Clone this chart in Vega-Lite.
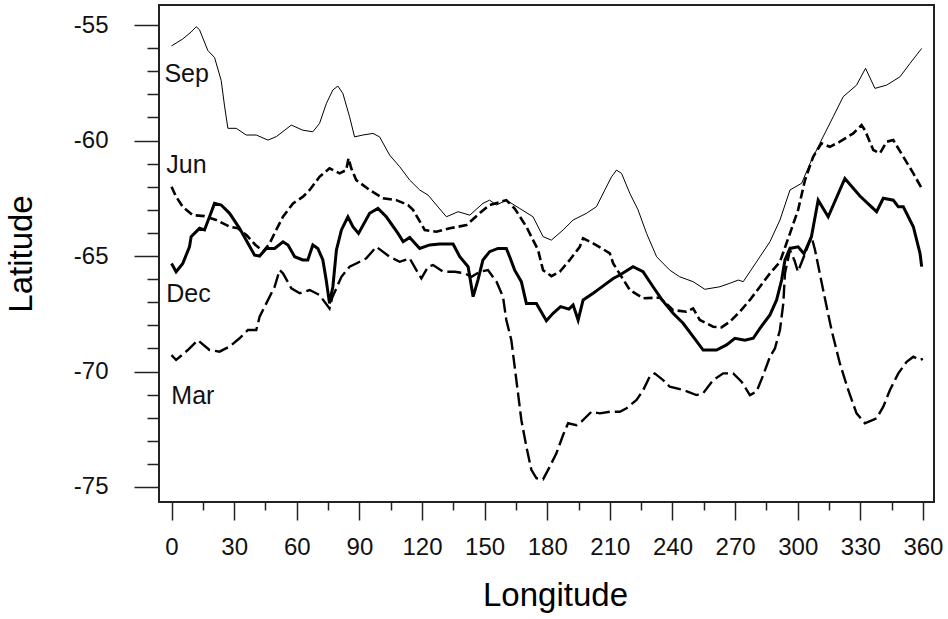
{
"$schema": "https://vega.github.io/schema/vega-lite/v6.json",
"width": 775, "height": 497,
"autosize": {"type": "none"},
"padding": {"left": 159, "top": 5, "right": 14, "bottom": 117},
"background": "white",
"config": {
 "font": "Liberation Sans",
 "view": {"stroke": "#222", "strokeWidth": 2},
 "axis": {"grid": false, "domain": false, "tickColor": "#222", "tickWidth": 1.5, "labelColor": "#111", "titleColor": "#000", "titleFontWeight": "normal", "labelFont": "Liberation Sans", "titleFont": "Liberation Sans"}
},
"datasets": {
 "lines": [
{"s":"Sep","lon":0,"lat":-55.9},{"s":"Sep","lon":5.4,"lat":-55.6},{"s":"Sep","lon":9.4,"lat":-55.3},{"s":"Sep","lon":11.8,"lat":-55.07},{"s":"Sep","lon":13.4,"lat":-55.2},{"s":"Sep","lon":17.4,"lat":-56.1},{"s":"Sep","lon":20.6,"lat":-56.4},{"s":"Sep","lon":23.8,"lat":-57.4},{"s":"Sep","lon":25.4,"lat":-58.5},{"s":"Sep","lon":27,"lat":-59.47},{"s":"Sep","lon":31,"lat":-59.47},{"s":"Sep","lon":35.8,"lat":-59.76},{"s":"Sep","lon":40.6,"lat":-59.76},{"s":"Sep","lon":46.2,"lat":-59.98},{"s":"Sep","lon":50.2,"lat":-59.83},{"s":"Sep","lon":57.4,"lat":-59.33},{"s":"Sep","lon":62.9,"lat":-59.55},{"s":"Sep","lon":67.7,"lat":-59.62},{"s":"Sep","lon":70.9,"lat":-59.26},{"s":"Sep","lon":74.2,"lat":-58.39},{"s":"Sep","lon":77.3,"lat":-57.81},{"s":"Sep","lon":79.7,"lat":-57.64},{"s":"Sep","lon":82.1,"lat":-57.96},{"s":"Sep","lon":85.3,"lat":-58.97},{"s":"Sep","lon":87.7,"lat":-59.84},{"s":"Sep","lon":91.7,"lat":-59.76},{"s":"Sep","lon":96.5,"lat":-59.69},{"s":"Sep","lon":99.7,"lat":-59.84},{"s":"Sep","lon":104.5,"lat":-60.63},{"s":"Sep","lon":109.3,"lat":-61.13},{"s":"Sep","lon":114.1,"lat":-61.71},{"s":"Sep","lon":118.9,"lat":-62.14},{"s":"Sep","lon":122.9,"lat":-62.36},{"s":"Sep","lon":127,"lat":-62.8},{"s":"Sep","lon":131.7,"lat":-63.3},{"s":"Sep","lon":137.3,"lat":-63.08},{"s":"Sep","lon":142.9,"lat":-63.23},{"s":"Sep","lon":149.2,"lat":-62.72},{"s":"Sep","lon":152.4,"lat":-62.58},{"s":"Sep","lon":155.7,"lat":-62.79},{"s":"Sep","lon":160.4,"lat":-62.58},{"s":"Sep","lon":166.8,"lat":-62.94},{"s":"Sep","lon":173.2,"lat":-63.3},{"s":"Sep","lon":178,"lat":-64.16},{"s":"Sep","lon":182,"lat":-64.31},{"s":"Sep","lon":187.6,"lat":-63.87},{"s":"Sep","lon":192.4,"lat":-63.44},{"s":"Sep","lon":198.8,"lat":-63.15},{"s":"Sep","lon":203.6,"lat":-62.86},{"s":"Sep","lon":207.6,"lat":-62.14},{"s":"Sep","lon":210.8,"lat":-61.57},{"s":"Sep","lon":213.2,"lat":-61.28},{"s":"Sep","lon":215.6,"lat":-61.42},{"s":"Sep","lon":219.6,"lat":-62.29},{"s":"Sep","lon":223.5,"lat":-63.0},{"s":"Sep","lon":227.6,"lat":-64.02},{"s":"Sep","lon":232.4,"lat":-65.03},{"s":"Sep","lon":238.7,"lat":-65.61},{"s":"Sep","lon":243.5,"lat":-65.9},{"s":"Sep","lon":249.9,"lat":-66.11},{"s":"Sep","lon":255.5,"lat":-66.44},{"s":"Sep","lon":262.7,"lat":-66.33},{"s":"Sep","lon":267.5,"lat":-66.18},{"s":"Sep","lon":271.5,"lat":-66.04},{"s":"Sep","lon":273.9,"lat":-66.11},{"s":"Sep","lon":277.1,"lat":-65.68},{"s":"Sep","lon":281.9,"lat":-65.03},{"s":"Sep","lon":286.7,"lat":-64.38},{"s":"Sep","lon":291.5,"lat":-63.44},{"s":"Sep","lon":296.3,"lat":-62.14},{"s":"Sep","lon":301.9,"lat":-61.85},{"s":"Sep","lon":305.9,"lat":-60.99},{"s":"Sep","lon":310.6,"lat":-60.12},{"s":"Sep","lon":317,"lat":-58.97},{"s":"Sep","lon":321.8,"lat":-58.1},{"s":"Sep","lon":328.2,"lat":-57.6},{"s":"Sep","lon":332.5,"lat":-56.87},{"s":"Sep","lon":337,"lat":-57.74},{"s":"Sep","lon":342.6,"lat":-57.6},{"s":"Sep","lon":349,"lat":-57.24},{"s":"Sep","lon":353.8,"lat":-56.66},{"s":"Sep","lon":359.4,"lat":-56.01},
{"s":"Jun","lon":0,"lat":-62.0},{"s":"Jun","lon":2.2,"lat":-62.43},{"s":"Jun","lon":5.4,"lat":-62.87},{"s":"Jun","lon":10.2,"lat":-63.23},{"s":"Jun","lon":15.8,"lat":-63.27},{"s":"Jun","lon":21.4,"lat":-63.44},{"s":"Jun","lon":27.8,"lat":-63.73},{"s":"Jun","lon":31.8,"lat":-63.8},{"s":"Jun","lon":36,"lat":-64.1},{"s":"Jun","lon":40,"lat":-64.5},{"s":"Jun","lon":44,"lat":-64.8},{"s":"Jun","lon":47,"lat":-64.45},{"s":"Jun","lon":50,"lat":-63.9},{"s":"Jun","lon":53.4,"lat":-63.3},{"s":"Jun","lon":58.2,"lat":-62.72},{"s":"Jun","lon":63,"lat":-62.43},{"s":"Jun","lon":66.2,"lat":-62.14},{"s":"Jun","lon":70.9,"lat":-61.57},{"s":"Jun","lon":75.7,"lat":-61.2},{"s":"Jun","lon":80.5,"lat":-61.42},{"s":"Jun","lon":83.7,"lat":-61.28},{"s":"Jun","lon":84.8,"lat":-60.77},{"s":"Jun","lon":86.1,"lat":-61.2},{"s":"Jun","lon":88.5,"lat":-61.71},{"s":"Jun","lon":94.9,"lat":-62.14},{"s":"Jun","lon":101.3,"lat":-62.5},{"s":"Jun","lon":107.7,"lat":-62.58},{"s":"Jun","lon":113.3,"lat":-62.79},{"s":"Jun","lon":115.7,"lat":-63.0},{"s":"Jun","lon":121.3,"lat":-63.87},{"s":"Jun","lon":126.9,"lat":-63.95},{"s":"Jun","lon":133.3,"lat":-63.8},{"s":"Jun","lon":141.3,"lat":-63.66},{"s":"Jun","lon":147.6,"lat":-63.15},{"s":"Jun","lon":152.4,"lat":-62.79},{"s":"Jun","lon":160.4,"lat":-62.58},{"s":"Jun","lon":164.4,"lat":-62.94},{"s":"Jun","lon":170,"lat":-63.73},{"s":"Jun","lon":175.6,"lat":-64.74},{"s":"Jun","lon":178,"lat":-65.61},{"s":"Jun","lon":182,"lat":-65.87},{"s":"Jun","lon":186,"lat":-65.68},{"s":"Jun","lon":190.8,"lat":-65.17},{"s":"Jun","lon":195.6,"lat":-64.6},{"s":"Jun","lon":197.2,"lat":-64.23},{"s":"Jun","lon":202,"lat":-64.45},{"s":"Jun","lon":210,"lat":-64.88},{"s":"Jun","lon":211.6,"lat":-65.32},{"s":"Jun","lon":219.6,"lat":-66.47},{"s":"Jun","lon":226,"lat":-66.83},{"s":"Jun","lon":233.9,"lat":-66.8},{"s":"Jun","lon":240.3,"lat":-67.34},{"s":"Jun","lon":246.7,"lat":-67.41},{"s":"Jun","lon":249.9,"lat":-67.27},{"s":"Jun","lon":253.1,"lat":-67.77},{"s":"Jun","lon":259.5,"lat":-68.06},{"s":"Jun","lon":263.5,"lat":-68.09},{"s":"Jun","lon":267.5,"lat":-67.84},{"s":"Jun","lon":272.3,"lat":-67.41},{"s":"Jun","lon":277.1,"lat":-66.9},{"s":"Jun","lon":281.9,"lat":-66.33},{"s":"Jun","lon":286.7,"lat":-65.75},{"s":"Jun","lon":291.5,"lat":-65.25},{"s":"Jun","lon":296.3,"lat":-64.02},{"s":"Jun","lon":300.2,"lat":-63.0},{"s":"Jun","lon":303.5,"lat":-61.71},{"s":"Jun","lon":307.4,"lat":-60.7},{"s":"Jun","lon":311.4,"lat":-60.12},{"s":"Jun","lon":315.4,"lat":-60.27},{"s":"Jun","lon":320.2,"lat":-60.05},{"s":"Jun","lon":326.6,"lat":-59.69},{"s":"Jun","lon":330.6,"lat":-59.33},{"s":"Jun","lon":332.2,"lat":-59.55},{"s":"Jun","lon":336.2,"lat":-60.41},{"s":"Jun","lon":339.4,"lat":-60.55},{"s":"Jun","lon":342.6,"lat":-60.05},{"s":"Jun","lon":345.8,"lat":-59.98},{"s":"Jun","lon":350.6,"lat":-60.7},{"s":"Jun","lon":355.4,"lat":-61.42},{"s":"Jun","lon":359.4,"lat":-62.07},
{"s":"Dec","lon":0,"lat":-65.32},{"s":"Dec","lon":2.2,"lat":-65.68},{"s":"Dec","lon":5.4,"lat":-65.32},{"s":"Dec","lon":8.6,"lat":-64.6},{"s":"Dec","lon":9.4,"lat":-64.16},{"s":"Dec","lon":13.4,"lat":-63.8},{"s":"Dec","lon":15.8,"lat":-63.87},{"s":"Dec","lon":18.2,"lat":-63.3},{"s":"Dec","lon":20.6,"lat":-62.72},{"s":"Dec","lon":23.8,"lat":-62.79},{"s":"Dec","lon":27.8,"lat":-63.15},{"s":"Dec","lon":32.6,"lat":-63.8},{"s":"Dec","lon":36.6,"lat":-64.45},{"s":"Dec","lon":39.8,"lat":-64.96},{"s":"Dec","lon":42.2,"lat":-65.0},{"s":"Dec","lon":45.4,"lat":-64.67},{"s":"Dec","lon":49.4,"lat":-64.67},{"s":"Dec","lon":53.4,"lat":-64.38},{"s":"Dec","lon":55.8,"lat":-64.52},{"s":"Dec","lon":59,"lat":-65.03},{"s":"Dec","lon":62.9,"lat":-65.17},{"s":"Dec","lon":65.3,"lat":-65.17},{"s":"Dec","lon":67.7,"lat":-64.52},{"s":"Dec","lon":70.1,"lat":-64.67},{"s":"Dec","lon":72.5,"lat":-65.17},{"s":"Dec","lon":74.1,"lat":-66.04},{"s":"Dec","lon":75.7,"lat":-67.05},{"s":"Dec","lon":77.3,"lat":-66.33},{"s":"Dec","lon":79,"lat":-64.74},{"s":"Dec","lon":81.4,"lat":-63.87},{"s":"Dec","lon":84.5,"lat":-63.3},{"s":"Dec","lon":86.9,"lat":-63.73},{"s":"Dec","lon":89.6,"lat":-64.02},{"s":"Dec","lon":94.9,"lat":-63.15},{"s":"Dec","lon":98.9,"lat":-62.94},{"s":"Dec","lon":102.9,"lat":-63.3},{"s":"Dec","lon":108.5,"lat":-64.02},{"s":"Dec","lon":111,"lat":-64.38},{"s":"Dec","lon":114.1,"lat":-64.2},{"s":"Dec","lon":118.9,"lat":-64.67},{"s":"Dec","lon":123.7,"lat":-64.52},{"s":"Dec","lon":128.5,"lat":-64.48},{"s":"Dec","lon":134.9,"lat":-64.48},{"s":"Dec","lon":138.1,"lat":-65.03},{"s":"Dec","lon":142.1,"lat":-65.46},{"s":"Dec","lon":144.5,"lat":-66.76},{"s":"Dec","lon":146.8,"lat":-66.04},{"s":"Dec","lon":149.2,"lat":-65.17},{"s":"Dec","lon":152.4,"lat":-64.81},{"s":"Dec","lon":156.4,"lat":-64.67},{"s":"Dec","lon":160.4,"lat":-64.67},{"s":"Dec","lon":162,"lat":-65.03},{"s":"Dec","lon":164.4,"lat":-65.61},{"s":"Dec","lon":167.6,"lat":-66.11},{"s":"Dec","lon":170,"lat":-67.05},{"s":"Dec","lon":174.8,"lat":-67.05},{"s":"Dec","lon":179.6,"lat":-67.8},{"s":"Dec","lon":182.8,"lat":-67.48},{"s":"Dec","lon":186.4,"lat":-67.19},{"s":"Dec","lon":190.4,"lat":-67.3},{"s":"Dec","lon":192.4,"lat":-67.12},{"s":"Dec","lon":194.8,"lat":-67.77},{"s":"Dec","lon":197.2,"lat":-66.9},{"s":"Dec","lon":202,"lat":-66.61},{"s":"Dec","lon":205.2,"lat":-66.4},{"s":"Dec","lon":211.6,"lat":-65.97},{"s":"Dec","lon":214.8,"lat":-65.82},{"s":"Dec","lon":221.1,"lat":-65.46},{"s":"Dec","lon":225.9,"lat":-65.68},{"s":"Dec","lon":230.7,"lat":-66.33},{"s":"Dec","lon":235,"lat":-66.9},{"s":"Dec","lon":240.3,"lat":-67.48},{"s":"Dec","lon":245.1,"lat":-67.91},{"s":"Dec","lon":249.9,"lat":-68.49},{"s":"Dec","lon":254.7,"lat":-69.07},{"s":"Dec","lon":261.1,"lat":-69.07},{"s":"Dec","lon":265.9,"lat":-68.85},{"s":"Dec","lon":269.9,"lat":-68.56},{"s":"Dec","lon":274.7,"lat":-68.64},{"s":"Dec","lon":278.7,"lat":-68.56},{"s":"Dec","lon":281.9,"lat":-68.13},{"s":"Dec","lon":286.7,"lat":-67.55},{"s":"Dec","lon":289.9,"lat":-66.9},{"s":"Dec","lon":292.3,"lat":-66.04},{"s":"Dec","lon":293.9,"lat":-65.17},{"s":"Dec","lon":296.3,"lat":-64.67},{"s":"Dec","lon":300.2,"lat":-64.6},{"s":"Dec","lon":303,"lat":-64.9},{"s":"Dec","lon":306.6,"lat":-64.16},{"s":"Dec","lon":309.8,"lat":-62.58},{"s":"Dec","lon":314.6,"lat":-63.3},{"s":"Dec","lon":322.6,"lat":-61.64},{"s":"Dec","lon":329.8,"lat":-62.4},{"s":"Dec","lon":337.8,"lat":-63.08},{"s":"Dec","lon":341,"lat":-62.5},{"s":"Dec","lon":345.8,"lat":-62.58},{"s":"Dec","lon":348.2,"lat":-62.87},{"s":"Dec","lon":350.6,"lat":-62.87},{"s":"Dec","lon":355.4,"lat":-63.73},{"s":"Dec","lon":358.6,"lat":-64.88},{"s":"Dec","lon":359.4,"lat":-65.46},
{"s":"Mar","lon":0,"lat":-69.29},{"s":"Mar","lon":2.2,"lat":-69.5},{"s":"Mar","lon":7.8,"lat":-69.07},{"s":"Mar","lon":12.6,"lat":-68.64},{"s":"Mar","lon":18.2,"lat":-69.07},{"s":"Mar","lon":23,"lat":-69.14},{"s":"Mar","lon":27.8,"lat":-68.92},{"s":"Mar","lon":32.6,"lat":-68.56},{"s":"Mar","lon":36.6,"lat":-68.2},{"s":"Mar","lon":40.6,"lat":-68.2},{"s":"Mar","lon":42.2,"lat":-67.63},{"s":"Mar","lon":45.4,"lat":-67.05},{"s":"Mar","lon":49.4,"lat":-66.33},{"s":"Mar","lon":51.8,"lat":-65.61},{"s":"Mar","lon":53.4,"lat":-65.75},{"s":"Mar","lon":57.4,"lat":-66.4},{"s":"Mar","lon":61.4,"lat":-66.61},{"s":"Mar","lon":66.2,"lat":-66.47},{"s":"Mar","lon":70.9,"lat":-66.69},{"s":"Mar","lon":75.7,"lat":-67.27},{"s":"Mar","lon":77,"lat":-66.8},{"s":"Mar","lon":81.4,"lat":-65.9},{"s":"Mar","lon":85.3,"lat":-65.46},{"s":"Mar","lon":89,"lat":-65.3},{"s":"Mar","lon":93.3,"lat":-65.1},{"s":"Mar","lon":98.1,"lat":-64.6},{"s":"Mar","lon":104.5,"lat":-65.03},{"s":"Mar","lon":109.3,"lat":-65.25},{"s":"Mar","lon":114.1,"lat":-65.1},{"s":"Mar","lon":117.3,"lat":-65.61},{"s":"Mar","lon":119.7,"lat":-65.97},{"s":"Mar","lon":122.9,"lat":-65.46},{"s":"Mar","lon":125.3,"lat":-65.39},{"s":"Mar","lon":130.1,"lat":-65.68},{"s":"Mar","lon":135.7,"lat":-65.68},{"s":"Mar","lon":140.5,"lat":-65.75},{"s":"Mar","lon":143.7,"lat":-65.9},{"s":"Mar","lon":147.6,"lat":-65.68},{"s":"Mar","lon":151.6,"lat":-65.61},{"s":"Mar","lon":155.7,"lat":-66.11},{"s":"Mar","lon":158.8,"lat":-66.76},{"s":"Mar","lon":160.4,"lat":-67.77},{"s":"Mar","lon":162.8,"lat":-68.64},{"s":"Mar","lon":164.4,"lat":-69.79},{"s":"Mar","lon":166,"lat":-70.94},{"s":"Mar","lon":167.6,"lat":-72.1},{"s":"Mar","lon":170,"lat":-73.25},{"s":"Mar","lon":172.4,"lat":-74.26},{"s":"Mar","lon":174.8,"lat":-74.62},{"s":"Mar","lon":178,"lat":-74.67},{"s":"Mar","lon":181.2,"lat":-74.12},{"s":"Mar","lon":184.4,"lat":-73.54},{"s":"Mar","lon":187.6,"lat":-72.75},{"s":"Mar","lon":190,"lat":-72.24},{"s":"Mar","lon":194,"lat":-72.32},{"s":"Mar","lon":196.4,"lat":-72.17},{"s":"Mar","lon":201.2,"lat":-71.74},{"s":"Mar","lon":205.2,"lat":-71.81},{"s":"Mar","lon":210,"lat":-71.74},{"s":"Mar","lon":214.8,"lat":-71.74},{"s":"Mar","lon":218,"lat":-71.59},{"s":"Mar","lon":222.8,"lat":-71.23},{"s":"Mar","lon":226,"lat":-70.8},{"s":"Mar","lon":229.1,"lat":-70.22},{"s":"Mar","lon":231.5,"lat":-70.08},{"s":"Mar","lon":235.5,"lat":-70.37},{"s":"Mar","lon":238.7,"lat":-70.66},{"s":"Mar","lon":245.1,"lat":-70.8},{"s":"Mar","lon":251.5,"lat":-71.02},{"s":"Mar","lon":254.7,"lat":-70.94},{"s":"Mar","lon":259.5,"lat":-70.37},{"s":"Mar","lon":264.3,"lat":-70.08},{"s":"Mar","lon":269.1,"lat":-70.08},{"s":"Mar","lon":273.1,"lat":-70.44},{"s":"Mar","lon":277.1,"lat":-71.02},{"s":"Mar","lon":280.3,"lat":-70.87},{"s":"Mar","lon":283.5,"lat":-70.15},{"s":"Mar","lon":286.7,"lat":-69.36},{"s":"Mar","lon":289.1,"lat":-69.0},{"s":"Mar","lon":291.5,"lat":-68.2},{"s":"Mar","lon":293.1,"lat":-67.05},{"s":"Mar","lon":293.9,"lat":-65.75},{"s":"Mar","lon":296.3,"lat":-64.74},{"s":"Mar","lon":298.5,"lat":-65.2},{"s":"Mar","lon":300.1,"lat":-65.68},{"s":"Mar","lon":303.5,"lat":-64.9},{"s":"Mar","lon":306.6,"lat":-64.16},{"s":"Mar","lon":308.3,"lat":-64.74},{"s":"Mar","lon":312.2,"lat":-66.47},{"s":"Mar","lon":316.2,"lat":-68.2},{"s":"Mar","lon":320.2,"lat":-69.65},{"s":"Mar","lon":324.2,"lat":-70.8},{"s":"Mar","lon":328.2,"lat":-71.81},{"s":"Mar","lon":332.2,"lat":-72.24},{"s":"Mar","lon":337.8,"lat":-72.03},{"s":"Mar","lon":341,"lat":-71.52},{"s":"Mar","lon":344.2,"lat":-70.8},{"s":"Mar","lon":348.2,"lat":-70.08},{"s":"Mar","lon":352.2,"lat":-69.58},{"s":"Mar","lon":355.4,"lat":-69.36},{"s":"Mar","lon":358.6,"lat":-69.5},{"s":"Mar","lon":360,"lat":-69.45}
 ],
 "labels": [
  {"t": "Sep", "lon": -3.4, "lat": -57.12},
  {"t": "Jun", "lon": -2.5, "lat": -61.04},
  {"t": "Dec", "lon": -2.5, "lat": -66.65},
  {"t": "Mar", "lon": -0.1, "lat": -71.04}
 ]
},
"layer": [
 {
  "data": {"name": "lines"},
  "transform": [{"filter": "datum.s === 'Sep'"}],
  "mark": {"type": "line", "color": "#000", "strokeWidth": 1, "clip": true},
  "encoding": {
   "x": {"field": "lon", "type": "quantitative", "scale": {"domain": [-6, 365.3], "nice": false, "zero": false},
     "axis": {"orient": "bottom", "values": [0,30,60,90,120,150,180,210,240,270,300,330,360], "tickSize": 18, "labelFontSize": 24, "labelPadding": 15, "labelFlush": false, "labelOverlap": false, "title": "Longitude", "titleFontSize": 33, "titlePadding": 20, "titleX": 396}},
   "y": {"field": "lat", "type": "quantitative", "scale": {"domain": [-75.65, -54.13], "nice": false, "zero": false},
     "axis": {"orient": "left", "values": [-55,-60,-65,-70,-75], "tickSize": 25, "labelFontSize": 24, "labelPadding": 26, "labelExpr": "'' + datum.value", "title": "Latitude", "titleFontSize": 33, "titlePadding": 35}}
  }
 },
 {
  "data": {"name": "lines"},
  "transform": [{"filter": "datum.s === 'Jun'"}],
  "mark": {"type": "line", "color": "#000", "strokeWidth": 2.6, "strokeDash": [9, 4], "clip": true},
  "encoding": {
   "x": {"field": "lon", "type": "quantitative", "scale": {"domain": [-6, 365.3], "nice": false, "zero": false},
     "axis": {"orient": "bottom", "values": [15,45,75,105,135,165,195,225,255,285,315,345], "tickSize": 8, "labels": false, "title": null}},
   "y": {"field": "lat", "type": "quantitative", "scale": {"domain": [-75.65, -54.13], "nice": false, "zero": false},
     "axis": {"orient": "left", "values": [-56,-57,-58,-59,-61,-62,-63,-64,-66,-67,-68,-69,-71,-72,-73,-74], "tickSize": 12, "labels": false, "title": null}}
  }
 },
 {
  "data": {"name": "lines"},
  "transform": [{"filter": "datum.s === 'Dec'"}],
  "mark": {"type": "line", "color": "#000", "strokeWidth": 3, "clip": true},
  "encoding": {
   "x": {"field": "lon", "type": "quantitative", "scale": {"domain": [-6, 365.3], "nice": false, "zero": false}, "axis": null},
   "y": {"field": "lat", "type": "quantitative", "scale": {"domain": [-75.65, -54.13], "nice": false, "zero": false}, "axis": null}
  }
 },
 {
  "data": {"name": "lines"},
  "transform": [{"filter": "datum.s === 'Mar'"}],
  "mark": {"type": "line", "color": "#000", "strokeWidth": 2.4, "strokeDash": [14, 5], "clip": true},
  "encoding": {
   "x": {"field": "lon", "type": "quantitative", "scale": {"domain": [-6, 365.3], "nice": false, "zero": false}, "axis": null},
   "y": {"field": "lat", "type": "quantitative", "scale": {"domain": [-75.65, -54.13], "nice": false, "zero": false}, "axis": null}
  }
 },
 {
  "data": {"name": "labels"},
  "mark": {"type": "text", "align": "left", "baseline": "middle", "fontSize": 25, "font": "Liberation Sans", "color": "#111"},
  "encoding": {
   "x": {"field": "lon", "type": "quantitative", "scale": {"domain": [-6, 365.3], "nice": false, "zero": false}, "axis": null},
   "y": {"field": "lat", "type": "quantitative", "scale": {"domain": [-75.65, -54.13], "nice": false, "zero": false}, "axis": null},
   "text": {"field": "t"}
  }
 }
],
"resolve": {"axis": {"x": "independent", "y": "independent"}}
}
